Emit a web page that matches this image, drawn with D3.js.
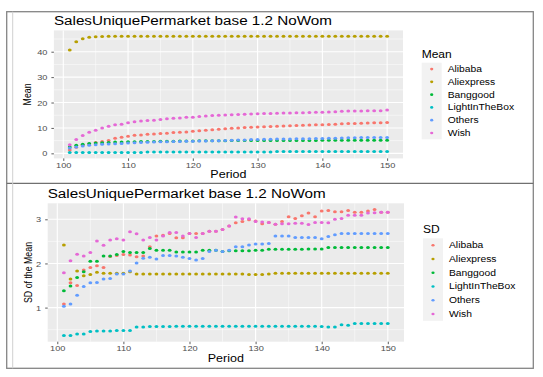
<!DOCTYPE html>
<html lang="en">

<head>
    <meta charset="UTF-8">
    <title>SalesUniquePermarket base 1.2 NoWom</title>
    <script src="https://d3js.org/d3.v7.min.js"></script>

    <style>
        body {
            margin: 0;
            background: #fff;
        }

        svg {
            display: block;
            font-family: "Liberation Sans", Arial, sans-serif;
        }
    </style>
</head>

<body>
    <svg width="543" height="377"></svg>

    <script>
        // x values and legend entries
        var periods = [101, 102, 103, 104, 105, 106, 107, 108, 109, 110,
            111, 112, 113, 114, 115, 116, 117, 118, 119, 120,
            121, 122, 123, 124, 125, 126, 127, 128, 129, 130,
            131, 132, 133, 134, 135, 136, 137, 138, 139, 140,
            141, 142, 143, 144, 145, 146, 147, 148, 149, 150];
        var markets = ["Alibaba", "Aliexpress", "Banggood", "LightInTheBox", "Others", "Wish"];
        var colors = ["#F8766D", "#B79F00", "#00BA38", "#00BFC4", "#619CFF", "#E568D6"];

        var periodTicks = [100, 110, 120, 130, 140, 150];
        var periodMinor = [105, 115, 125, 135, 145];
        var meanTicks = [0, 10, 20, 30, 40];
        var meanMinor = [5, 15, 25, 35, 45];
        var sdTicks = [1, 2, 3];
        var sdMinor = [0.5, 1.5, 2.5];

        // top plot: mean
        var alibabaMean = [1.3, 2.4, 3.2, 3.7, 4.3, 4.7, 5.1, 5.9, 6.3, 6.7,
            7.1, 7.2, 7.5, 7.6, 7.8, 7.9, 8.2, 8.3, 8.4, 8.7,
            8.9, 9.1, 9.3, 9.5, 9.7, 9.9, 10.0, 10.2, 10.3, 10.4,
            10.5, 10.6, 10.7, 10.8, 10.9, 11.0, 11.1, 11.2, 11.3, 11.3,
            11.4, 11.5, 11.6, 11.7, 11.7, 11.8, 11.9, 12.0, 12.0, 12.1];
        var aliexpressMean = [40.7, 43.9, 45.1, 45.7, 45.9, 46.0, 46.1, 46.1, 46.1, 46.1,
            46.1, 46.1, 46.1, 46.1, 46.1, 46.1, 46.1, 46.1, 46.1, 46.1,
            46.1, 46.1, 46.1, 46.1, 46.1, 46.1, 46.1, 46.1, 46.1, 46.1,
            46.1, 46.1, 46.1, 46.1, 46.1, 46.1, 46.1, 46.1, 46.1, 46.1,
            46.1, 46.1, 46.1, 46.1, 46.1, 46.1, 46.1, 46.1, 46.1, 46.1];
        var banggoodMean = [2.5, 3.2, 3.6, 3.9, 4.1, 4.2, 4.3, 4.5, 4.5, 4.6,
            4.6, 4.7, 4.7, 4.7, 4.8, 4.8, 4.8, 4.9, 4.9, 4.9,
            5.0, 5.0, 5.0, 5.0, 5.0, 5.1, 5.1, 5.1, 5.1, 5.1,
            5.1, 5.1, 5.1, 5.1, 5.1, 5.1, 5.1, 5.1, 5.1, 5.2,
            5.2, 5.2, 5.2, 5.2, 5.2, 5.2, 5.2, 5.2, 5.2, 5.2];
        var lightInTheBoxMean = [0.3, 0.3, 0.3, 0.3, 0.3, 0.3, 0.3, 0.3, 0.3, 0.3,
            0.3, 0.3, 0.5, 0.5, 0.5, 0.5, 0.5, 0.5, 0.5, 0.5,
            0.5, 0.5, 0.5, 0.5, 0.5, 0.5, 0.5, 0.5, 0.5, 0.5,
            0.5, 0.5, 0.7, 0.7, 0.7, 0.7, 0.7, 0.7, 0.7, 0.7,
            0.7, 0.7, 0.7, 0.7, 0.7, 0.7, 0.7, 0.7, 0.7, 0.7];
        var othersMean = [2.1, 2.5, 2.9, 3.2, 3.4, 3.6, 3.7, 3.8, 3.9, 4.1,
            4.2, 4.3, 4.4, 4.5, 4.6, 4.6, 4.7, 4.7, 4.8, 4.8,
            4.9, 4.9, 5.0, 5.0, 5.1, 5.2, 5.3, 5.3, 5.4, 5.4,
            5.5, 5.5, 5.6, 5.6, 5.6, 5.7, 5.7, 5.7, 5.8, 5.8,
            5.9, 5.9, 6.0, 6.1, 6.1, 6.2, 6.2, 6.2, 6.2, 6.2];
        var wishMean = [3.4, 5.4, 7.0, 8.3, 9.1, 10.0, 10.7, 11.3, 11.5, 12.0,
            12.4, 12.7, 12.9, 13.0, 13.3, 13.6, 13.8, 13.9, 14.2, 14.2,
            14.5, 14.7, 14.9, 15.0, 15.1, 15.2, 15.3, 15.4, 15.5, 15.6,
            15.7, 15.7, 15.8, 15.9, 15.9, 16.0, 16.0, 16.1, 16.2, 16.2,
            16.3, 16.4, 16.6, 16.7, 16.7, 16.7, 16.8, 16.8, 16.8, 17.1];

        // bottom plot: SD of the mean
        var alibabaSD = [1.08, 1.56, 1.50, 1.85, 1.91, 1.95, 1.91, 2.16, 2.18, 2.20,
            2.19, 2.15, 2.17, 2.38, 2.62, 2.64, 2.68, 2.58, 2.58, 2.68,
            2.68, 2.68, 2.73, 2.73, 2.77, 2.85, 2.92, 2.95, 2.99, 2.96,
            2.90, 2.93, 2.89, 2.95, 3.06, 3.02, 3.08, 3.14, 3.06, 3.19,
            3.20, 3.17, 3.17, 3.20, 3.16, 3.16, 3.19, 3.22, 3.16, 3.16];
        var aliexpressSD = [2.42, 1.65, 1.83, 1.72, 1.75, 1.80, 1.78, 1.78, 1.78, 1.78,
            1.81, 1.76, 1.76, 1.76, 1.76, 1.76, 1.76, 1.76, 1.76, 1.76,
            1.76, 1.76, 1.76, 1.76, 1.76, 1.76, 1.76, 1.76, 1.75, 1.75,
            1.75, 1.76, 1.78, 1.78, 1.78, 1.78, 1.78, 1.78, 1.78, 1.78,
            1.78, 1.78, 1.78, 1.78, 1.78, 1.78, 1.78, 1.78, 1.78, 1.78];
        var banggoodSD = [1.38, 1.49, 1.68, 1.81, 2.05, 2.05, 2.17, 2.17, 2.20, 2.27,
            2.25, 2.25, 2.25, 2.34, 2.30, 2.30, 2.30, 2.26, 2.26, 2.26,
            2.26, 2.30, 2.30, 2.30, 2.27, 2.29, 2.29, 2.29, 2.29, 2.30,
            2.30, 2.32, 2.32, 2.32, 2.32, 2.32, 2.32, 2.33, 2.33, 2.33,
            2.36, 2.36, 2.36, 2.36, 2.36, 2.36, 2.36, 2.36, 2.36, 2.36];
        var lightInTheBoxSD = [0.37, 0.37, 0.40, 0.40, 0.46, 0.47, 0.47, 0.47, 0.48, 0.48,
            0.48, 0.56, 0.56, 0.57, 0.57, 0.57, 0.57, 0.58, 0.58, 0.58,
            0.58, 0.58, 0.58, 0.58, 0.58, 0.58, 0.58, 0.58, 0.58, 0.58,
            0.58, 0.58, 0.58, 0.58, 0.58, 0.58, 0.58, 0.58, 0.58, 0.57,
            0.56, 0.56, 0.61, 0.60, 0.64, 0.64, 0.64, 0.64, 0.64, 0.64];
        var othersSD = [1.03, 1.08, 1.28, 1.48, 1.56, 1.57, 1.65, 1.66, 1.76, 1.76,
            1.83, 2.01, 2.12, 2.14, 2.10, 2.18, 2.18, 2.17, 2.14, 2.11,
            2.08, 2.11, 2.27, 2.30, 2.27, 2.30, 2.38, 2.38, 2.42, 2.44,
            2.44, 2.45, 2.62, 2.62, 2.62, 2.59, 2.59, 2.59, 2.59, 2.56,
            2.61, 2.65, 2.68, 2.68, 2.68, 2.68, 2.68, 2.68, 2.68, 2.68];
        var wishSD = [1.79, 2.06, 2.21, 2.17, 2.25, 2.51, 2.41, 2.53, 2.56, 2.53,
            2.72, 2.67, 2.53, 2.59, 2.53, 2.62, 2.70, 2.70, 2.62, 2.68,
            2.59, 2.68, 2.73, 2.73, 2.77, 2.85, 3.05, 3.01, 3.01, 2.95,
            2.94, 2.93, 2.89, 2.90, 2.90, 2.91, 2.91, 2.88, 2.93, 2.93,
            2.92, 3.00, 3.02, 3.09, 3.09, 3.09, 3.14, 3.15, 3.16, 3.16];

        var svg = d3.select("svg");

        // the screenshot is stretched sideways, so text is widened a bit
        function widen(sel, k) {
            sel.attr("textLength", function () { return this.getComputedTextLength() * k; })
                .attr("lengthAdjust", "spacingAndGlyphs");
        }

        // grey frames round the two screenshots
        svg.append("rect").attr("x", 6.7).attr("y", 11.7).attr("width", 526.6).attr("height", 356.6)
            .attr("fill", "#fff").attr("stroke", "#858585").attr("stroke-width", 1.3);
        svg.append("line").attr("x1", 6.7).attr("x2", 533.3).attr("y1", 183.3).attr("y2", 183.3)
            .attr("stroke", "#707070").attr("stroke-width", 1.3);
        svg.append("line").attr("x1", 12.7).attr("x2", 12.7).attr("y1", 11.7).attr("y2", 368.3)
            .attr("stroke", "#d0d0d0").attr("stroke-width", 1);

        function drawPanel(cfg) {
            var b = cfg.box;
            var g = svg.append("g");

            var xExt = d3.extent(periods);
            var xPad = (xExt[1] - xExt[0]) * 0.05;
            var x = d3.scaleLinear()
                .domain([xExt[0] - xPad, xExt[1] + xPad])
                .range([b.left, b.right]);

            var yExt = d3.extent(d3.merge(cfg.series));
            var yPad = (yExt[1] - yExt[0]) * 0.05;
            var y = d3.scaleLinear()
                .domain([yExt[0] - yPad, yExt[1] + yPad])
                .range([b.bottom, b.top]);

            g.append("rect")
                .attr("x", b.left).attr("y", b.top)
                .attr("width", b.right - b.left).attr("height", b.bottom - b.top)
                .attr("fill", "#EBEBEB");

            // grid
            g.append("g").selectAll("line").data(cfg.yMinor).join("line")
                .attr("x1", b.left).attr("x2", b.right)
                .attr("y1", d => y(d)).attr("y2", d => y(d))
                .attr("stroke", "#fff").attr("stroke-width", 0.5);
            g.append("g").selectAll("line").data(periodMinor).join("line")
                .attr("y1", b.top).attr("y2", b.bottom)
                .attr("x1", d => x(d)).attr("x2", d => x(d))
                .attr("stroke", "#fff").attr("stroke-width", 0.5);
            g.append("g").selectAll("line").data(cfg.yTicks).join("line")
                .attr("x1", b.left).attr("x2", b.right)
                .attr("y1", d => y(d)).attr("y2", d => y(d))
                .attr("stroke", "#fff").attr("stroke-width", 1.1);
            g.append("g").selectAll("line").data(periodTicks).join("line")
                .attr("y1", b.top).attr("y2", b.bottom)
                .attr("x1", d => x(d)).attr("x2", d => x(d))
                .attr("stroke", "#fff").attr("stroke-width", 1.1);

            // axes
            var xAxis = g.append("g")
                .attr("transform", "translate(0," + b.bottom + ")")
                .call(d3.axisBottom(x).tickValues(periodTicks).tickSize(2.5).tickPadding(1.6));
            var yAxis = g.append("g")
                .attr("transform", "translate(" + b.left + ",0)")
                .call(d3.axisLeft(y).tickValues(cfg.yTicks).tickFormat(d3.format("d")).tickSize(2.5).tickPadding(4));
            [xAxis, yAxis].forEach(function (ax) {
                ax.attr("font-family", null).attr("font-size", 8);
                ax.select(".domain").remove();
                ax.selectAll("line").attr("stroke", "#333").attr("stroke-width", 0.8);
                ax.selectAll("text").attr("fill", "#4D4D4D").call(widen, 1.15);
            });

            // points
            cfg.series.forEach(function (vals, i) {
                g.append("g").selectAll("ellipse").data(vals).join("ellipse")
                    .attr("cx", (d, j) => x(periods[j]))
                    .attr("cy", d => y(d))
                    .attr("rx", 1.9).attr("ry", 1.5)
                    .attr("fill", colors[i]);
            });

            // titles
            g.append("text")
                .attr("x", b.left).attr("y", b.top - 5)
                .attr("font-size", 12.5).attr("fill", "#000")
                .attr("textLength", 278).attr("lengthAdjust", "spacingAndGlyphs")
                .text("SalesUniquePermarket base 1.2 NoWom");
            g.append("text")
                .attr("x", (b.left + b.right) / 2).attr("y", b.bottom + 20)
                .attr("text-anchor", "middle")
                .attr("font-size", 10).attr("fill", "#000")
                .text("Period")
                .call(widen, 1.25);
            g.append("text")
                .attr("transform", "translate(" + cfg.yTitleX + "," + (b.top + b.bottom) / 2 + ") scale(1.3,1) rotate(-90)")
                .attr("text-anchor", "middle")
                .attr("font-size", 8.8).attr("fill", "#000")
                .text(cfg.yTitle);

            // legend
            var L = cfg.legend;
            var lg = svg.append("g");
            lg.append("text")
                .attr("x", L.x).attr("y", L.titleY)
                .attr("font-size", 10).attr("fill", "#000")
                .text(cfg.legendTitle)
                .call(widen, 1.2);
            lg.append("rect")
                .attr("x", L.x).attr("y", L.top)
                .attr("width", 20).attr("height", L.step * markets.length)
                .attr("fill", "#F2F2F2");
            lg.selectAll("ellipse").data(markets).join("ellipse")
                .attr("cx", L.x + 10)
                .attr("cy", (d, i) => L.top + L.step * (i + 0.5))
                .attr("rx", 1.6).attr("ry", 1.3)
                .attr("fill", (d, i) => colors[i]);
            lg.selectAll("text.lab").data(markets).join("text")
                .attr("class", "lab")
                .attr("x", L.x + 26)
                .attr("y", (d, i) => L.top + L.step * (i + 0.5))
                .attr("dy", "0.35em")
                .attr("font-size", 8.3).attr("fill", "#000")
                .text(d => d)
                .call(widen, 1.24);
        }

        drawPanel({
            box: { left: 53.9, right: 403, top: 30.4, bottom: 158.4 },
            series: [alibabaMean, aliexpressMean, banggoodMean, lightInTheBoxMean, othersMean, wishMean],
            yTicks: meanTicks,
            yMinor: meanMinor,
            yTitle: "Mean",
            yTitleX: 30.7,
            legendTitle: "Mean",
            legend: { x: 421.7, titleY: 58.3, top: 62.7, step: 12.77 }
        });

        drawPanel({
            box: { left: 47.7, right: 404, top: 203.3, bottom: 341.7 },
            series: [alibabaSD, aliexpressSD, banggoodSD, lightInTheBoxSD, othersSD, wishSD],
            yTicks: sdTicks,
            yMinor: sdMinor,
            yTitle: "SD of the Mean",
            yTitleX: 31.5,
            legendTitle: "SD",
            legend: { x: 423, titleY: 233.3, top: 238.3, step: 13.75 }
        });
    </script>

</body>

</html>
